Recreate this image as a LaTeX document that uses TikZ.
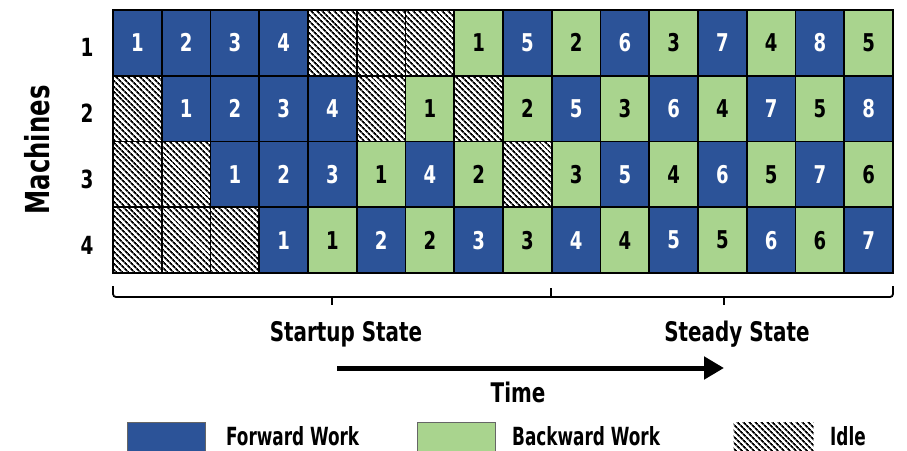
\documentclass[tikz,border=0pt]{standalone}
\usepackage{fontspec}
\setmainfont{DejaVu Sans Condensed}
\newfontfamily\cond{DejaVu Sans Condensed Bold}[FakeStretch=0.82]
\newfontfamily\condn{DejaVu Sans Condensed Bold}[FakeStretch=0.75]
\usetikzlibrary{patterns.meta,arrows.meta}
\definecolor{fwblue}{RGB}{44,83,152}
\definecolor{bwgreen}{RGB}{169,212,142}
\tikzset{
  cell/.style={draw=black, line width=1.8pt, minimum width=48.75pt, minimum height=65.75pt, inner sep=0pt, font=\cond\fontsize{24.5}{24.5}\selectfont},
  f/.style={cell, fill=fwblue, text=white},
  b/.style={cell, fill=bwgreen, text=black},
  hatch/.style={pattern={Lines[angle=-45,distance=4pt,line width=1.9pt]}},
  i/.style={cell, hatch},
  lbl/.style={font=\cond\fontsize{27}{27}\selectfont, inner sep=0pt},
  leglbl/.style={font=\condn\fontsize{25}{25}\selectfont, inner sep=0pt, anchor=base west},
  rowlbl/.style={font=\cond\fontsize{25}{25}\selectfont, inner sep=0pt},
  brace/.style={line width=1.8pt, rounded corners=3pt},
  legbox/.style={draw=black!60, line width=1.2pt, minimum width=78pt, minimum height=34pt, inner sep=0pt, anchor=north west},
}
\begin{document}
\begin{tikzpicture}[x=1pt,y=-1pt]
\useasboundingbox (0,0) rectangle (907,450);
\clip (0,0) rectangle (907,450);
% grid
\foreach \row/\cells in {1/{f/1,f/2,f/3,f/4,i/,i/,i/,b/1,f/5,b/2,f/6,b/3,f/7,b/4,f/8,b/5},
                         2/{i/,f/1,f/2,f/3,f/4,i/,b/1,i/,b/2,f/5,b/3,f/6,b/4,f/7,b/5,f/8},
                         3/{i/,i/,f/1,f/2,f/3,b/1,f/4,b/2,i/,b/3,f/5,b/4,f/6,b/5,f/7,b/6},
                         4/{i/,i/,i/,f/1,b/1,f/2,b/2,f/3,b/3,f/4,b/4,f/5,b/5,f/6,b/6,f/7}} {
  \foreach \k/\n [count=\col] in \cells {
    \node[\k] (c-\row-\col) at ({113+48.75*(\col-0.5)},{10+65.75*(\row-0.5)}) {\n};
  }
}
% row labels
\foreach \r in {1,2,3,4} {
  \node[rowlbl] (r\r) at (87,{15+65.75*(\r-0.5)}) {\r};
}
\node[font=\cond\fontsize{33}{33}\selectfont, inner sep=0pt, rotate=90] (mach) at (37,150) {Machines};
% braces
\coordinate (bl) at (113,286);
\coordinate (br) at (893,286);
\coordinate (bm) at (551,288);
\coordinate (t1) at (332,305);
\coordinate (t2) at (724,305);
\draw[brace] (bl) -- (113,297) -- (893,297) -- (br);
\draw[brace] (bm) -- (551,297);
\draw[brace] (332,297) -- (t1);
\draw[brace] (724,297) -- (t2);
% state labels
\node[lbl] (startup) at (346,334) {Startup State};
\node[lbl] (steady) at (737,334) {Steady State};
% time arrow
\coordinate (a1) at (337,368);
\coordinate (a2) at (724,368);
\draw[line width=5pt, -{Triangle[length=20pt,width=22pt]}] (a1) -- (a2);
\node[lbl] (time) at (518,392) {Time};
% legend
\node[legbox, fill=fwblue] (lf) at (127,422) {};
\node[leglbl] (lft) at (226,445) {Forward Work};
\node[legbox, fill=bwgreen] (lb) at (417,422) {};
\node[leglbl] (lbt) at (512,445) {Backward Work};
\node[legbox, draw=none, hatch, minimum width=80pt, minimum height=30pt] (li) at (733,422) {};
\node[leglbl] (lit) at (830,445) {Idle};
\end{tikzpicture}
\end{document}
